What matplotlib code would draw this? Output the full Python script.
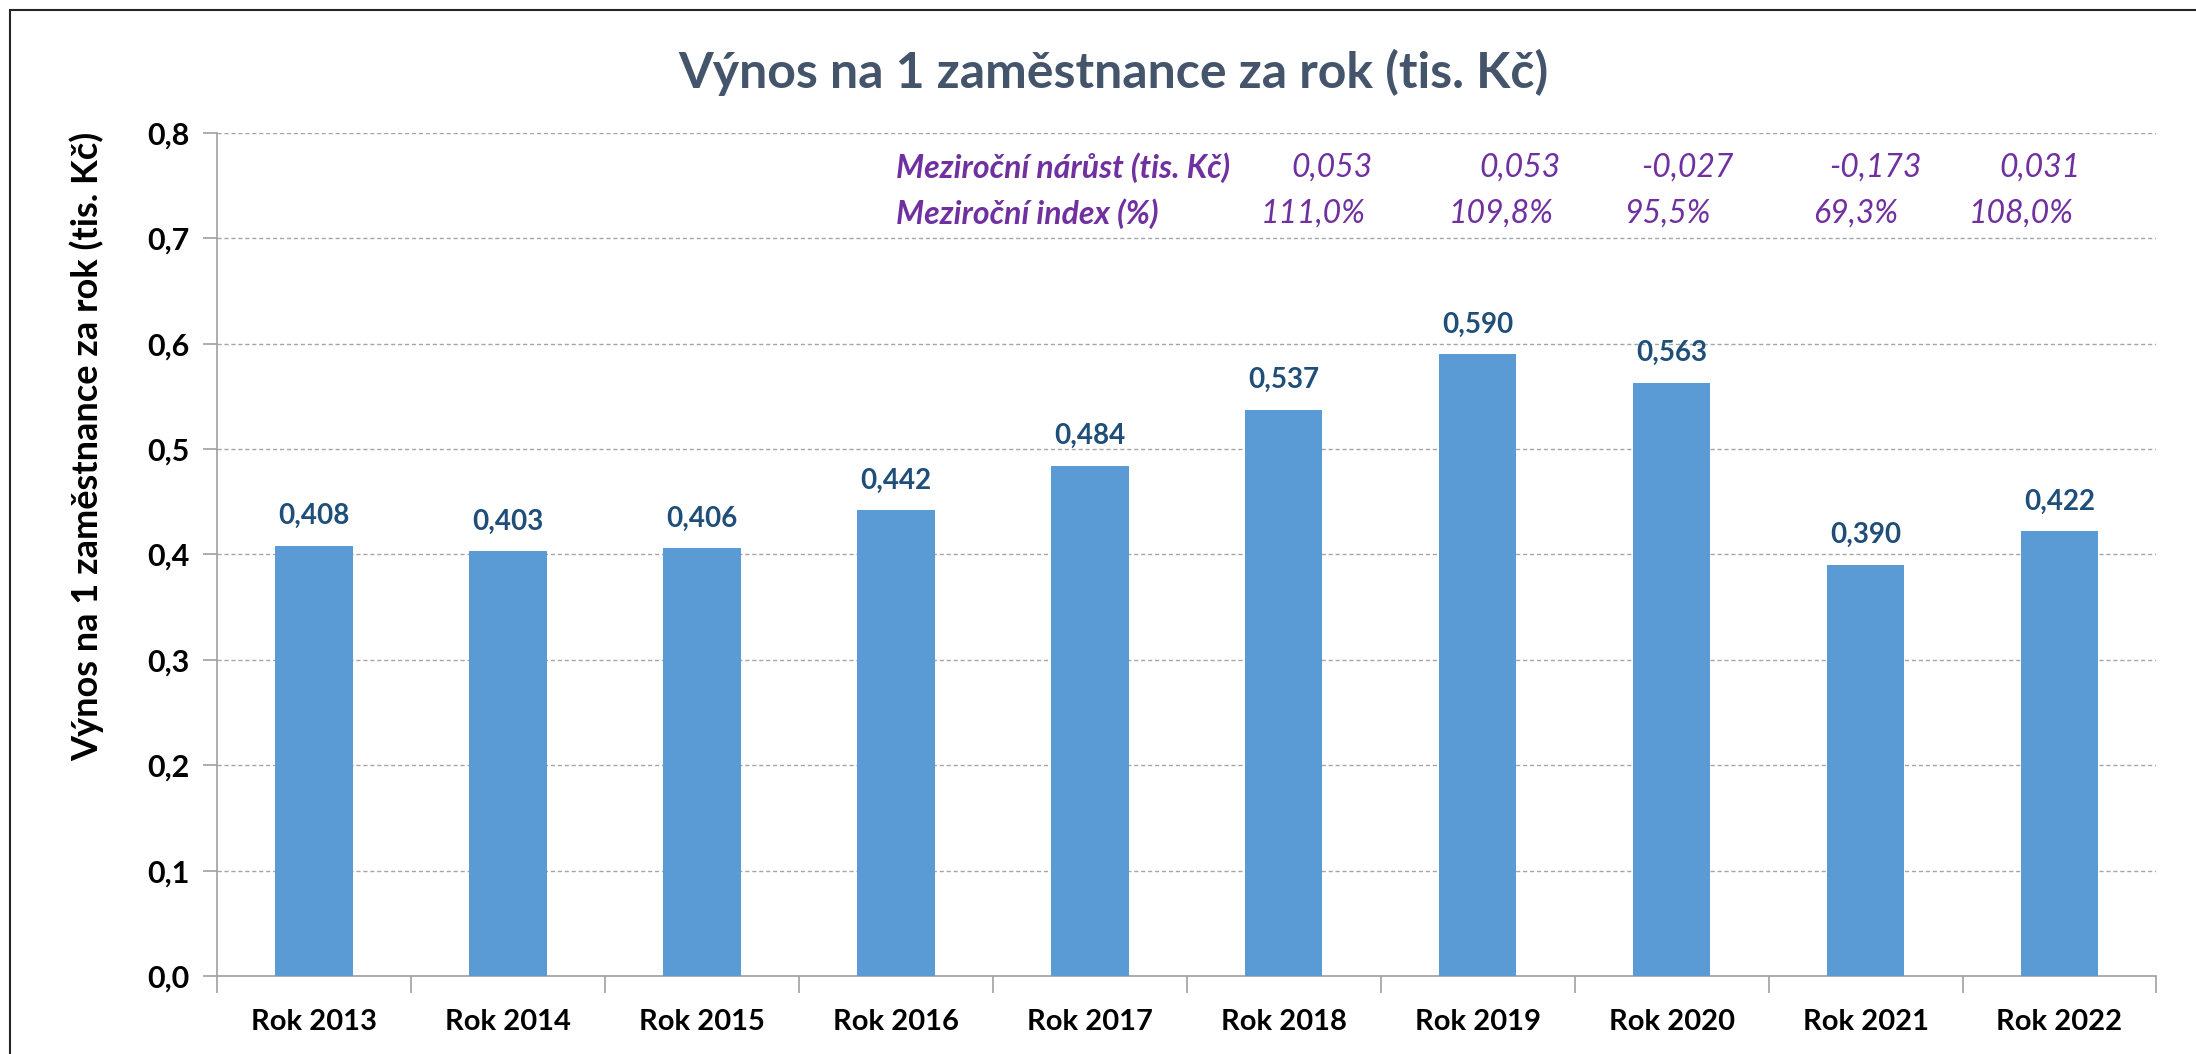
import numpy as np
import matplotlib
matplotlib.use("Agg")
import matplotlib.pyplot as plt
from matplotlib.patches import Rectangle

# data
years = ["Rok 2013", "Rok 2014", "Rok 2015", "Rok 2016", "Rok 2017",
         "Rok 2018", "Rok 2019", "Rok 2020", "Rok 2021", "Rok 2022"]
values = [0.408, 0.403, 0.406, 0.442, 0.484, 0.537, 0.590, 0.563, 0.390, 0.422]
growth = ["0,053", "0,053", "-0,027", "-0,173", "0,031"]
index_pct = ["111,0%", "109,8%", "95,5%", "69,3%", "108,0%"]
yticks = [0.0, 0.1, 0.2, 0.3, 0.4, 0.5, 0.6, 0.7, 0.8]

title = "Výnos na 1 zaměstnance za rok (tis. Kč)"
ylabel = "Výnos na 1 zaměstnance za rok (tis. Kč)"

plt.rcParams['font.family'] = ['Lato', 'DejaVu Sans']

bar_col = '#5B9BD5'
lab_col = '#1F4E79'
purple = '#7030A0'
grid_col = '#A6A6A6'

fig = plt.figure(figsize=(21.96, 10.54), dpi=100)
ax = fig.add_axes([0.0988, 0.074, 0.8832, 0.8])

x = np.arange(len(years))
ax.bar(x, values, width=0.4, color=bar_col, zorder=3)

for xi, v in zip(x, values):
    ax.annotate(("%.3f" % v).replace('.', ','), (xi, v), xytext=(0, 12),
                textcoords='offset points', ha='center', va='bottom',
                fontsize=20, fontweight='bold', color=lab_col)

ax.set_xlim(-0.5, len(years) - 0.5)
ax.set_ylim(0, 0.8)
ax.set_yticks(yticks)
ax.set_yticklabels([("%.1f" % t).replace('.', ',') for t in yticks],
                   fontsize=22, fontweight='bold')
ax.yaxis.grid(True, linestyle=(0, (3, 2)), color=grid_col, lw=1.0, zorder=0)

# category ticks between bars, labels centered
ax.set_xticks(np.arange(-0.5, len(years), 1.0))
ax.set_xticklabels([])
ax.set_xticks(x, minor=True)
ax.set_xticklabels(years, minor=True, fontsize=21, fontweight='bold')
ax.tick_params(axis='x', which='minor', length=0, pad=24)
ax.tick_params(axis='x', which='major', length=12, color='#A0A0A0', width=1.2)
ax.tick_params(axis='y', length=10, color='#A0A0A0', width=1.2, pad=10)

for s in ['top', 'right']:
    ax.spines[s].set_visible(False)
for s in ['left', 'bottom']:
    ax.spines[s].set_color('#A0A0A0')
    ax.spines[s].set_linewidth(1.2)

ax.set_ylabel(ylabel, fontsize=26, fontweight='bold')
ax.yaxis.set_label_coords(-0.058, 0.628)

# year-on-year annotation rows
row_x = [5.25, 6.22, 7.08, 8.05, 8.9]
ax.text(3.0, 0.767, "Meziroční nárůst (tis. Kč)", fontsize=23, fontweight='bold',
        style='italic', color=purple, ha='left', va='center')
ax.text(3.0, 0.723, "Meziroční index (%)", fontsize=23, fontweight='bold',
        style='italic', color=purple, ha='left', va='center')
for xp, g, ip in zip(row_x, growth, index_pct):
    ax.text(xp, 0.767, g, fontsize=23, style='italic', color=purple,
            ha='center', va='center')
    ax.text(xp - 0.1, 0.723, ip, fontsize=23, style='italic', color=purple,
            ha='center', va='center')

fig.text(0.507, 0.931, title, fontsize=36, fontweight='bold', color='#44546A',
         ha='center', va='center')

fig.patches.append(Rectangle((10 / 2196, -0.1), 1.2, 1.1 - 10 / 1054,
                             transform=fig.transFigure, fill=False,
                             edgecolor='#262626', lw=1.5))

fig.savefig('out.png', dpi=100)
